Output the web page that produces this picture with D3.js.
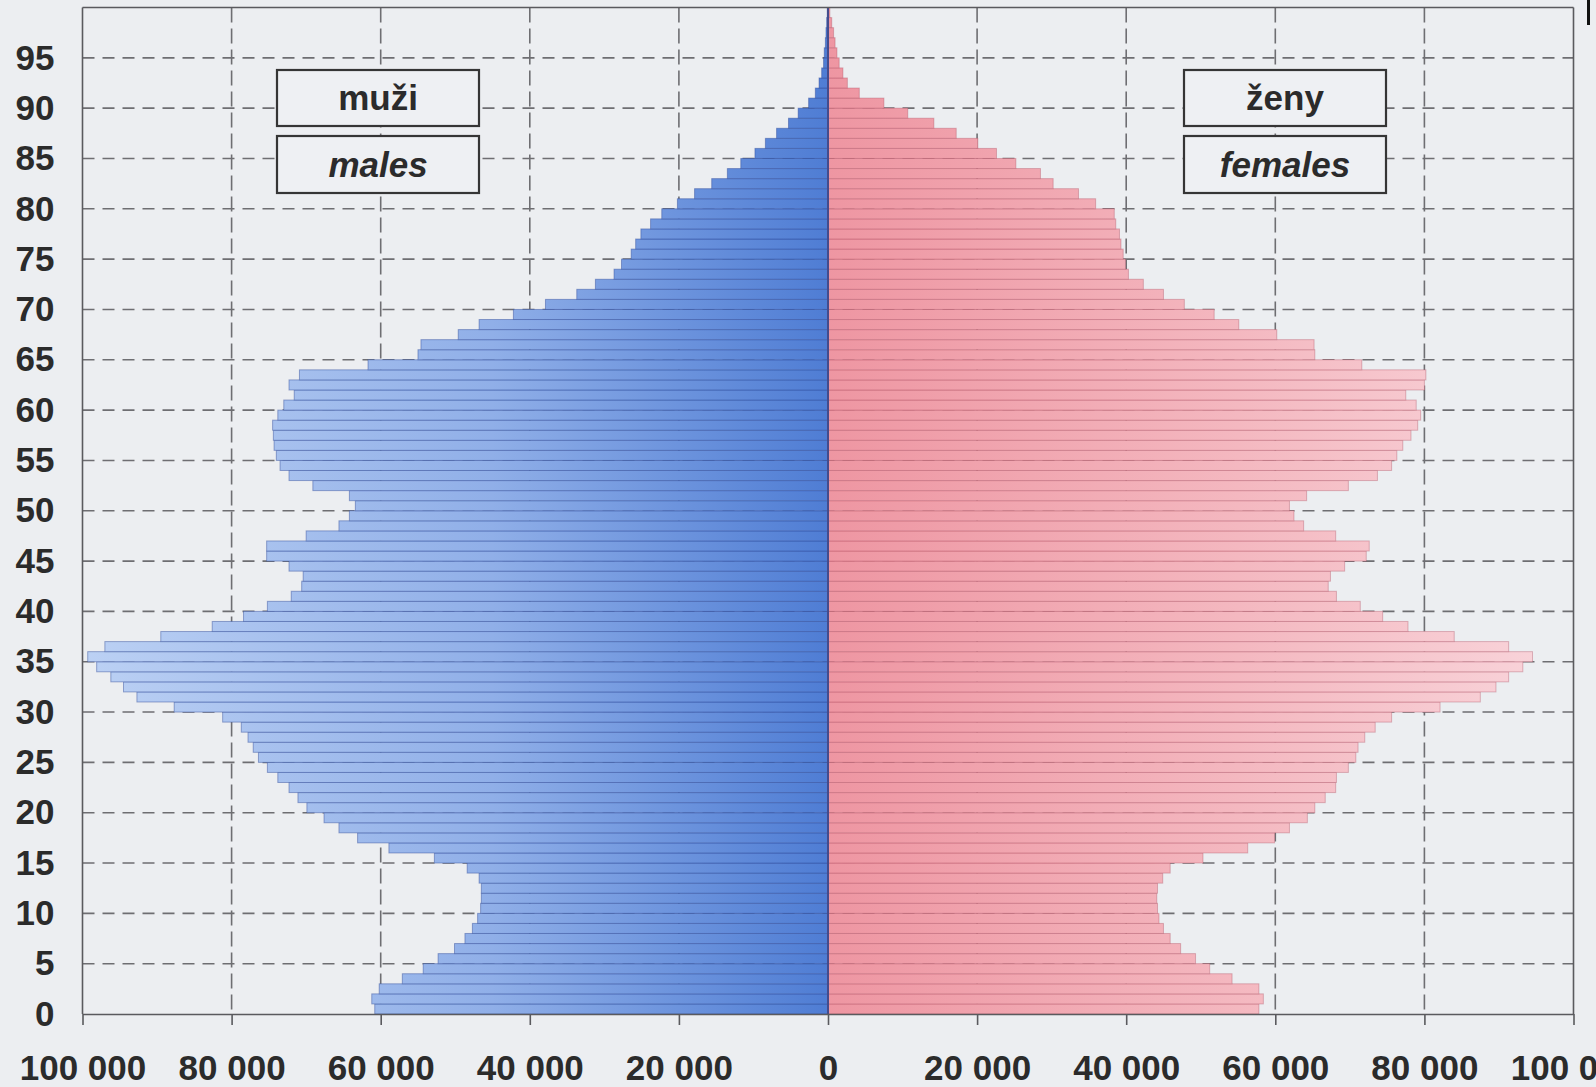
<!DOCTYPE html>
<html><head><meta charset="utf-8">
<script src="https://cdn.jsdelivr.net/npm/d3@7"></script>
<style>html,body{margin:0;padding:0;background:#eceef1;overflow:hidden;} svg{display:block;}</style>
</head><body>
<svg id="c" width="1596" height="1087"></svg>
<script>
// ---- data (thousands of persons, ages 0..99) ----
const ages = d3.range(0, 100);
const males = [
 60.8,61.2,60.2,57.1,54.3,52.3,50.1,48.7,47.7,47.0,
 46.6,46.5,46.5,46.8,48.4,52.8,58.9,63.1,65.6,67.6,
 69.9,71.1,72.3,73.8,75.2,76.4,77.1,77.8,78.7,81.2,
 87.7,92.7,94.5,96.2,98.1,99.3,97.0,89.5,82.6,78.4,
 75.2,72.0,70.6,70.4,72.3,75.3,75.3,70.0,65.6,64.2,
 63.4,64.2,69.1,72.3,73.5,74.0,74.3,74.4,74.5,73.8,
 73.0,71.6,72.3,70.9,61.7,55.0,54.6,49.6,46.8,42.2,
 37.9,33.7,31.2,28.7,27.7,26.4,25.8,25.1,23.8,22.3,
 20.2,17.9,15.6,13.5,11.7,9.8,8.4,6.9,5.3,4.0,
 2.6,1.7,1.2,0.85,0.6,0.5,0.35,0.27,0.18,0.1
];
const females = [
 57.8,58.4,57.8,54.2,51.2,49.3,47.3,45.9,45.0,44.4,
 44.2,44.1,44.2,44.9,45.9,50.3,56.3,59.9,61.9,64.3,
 65.3,66.7,68.1,68.2,69.8,70.8,71.1,72.0,73.4,75.6,
 82.1,87.5,89.6,91.3,93.2,94.5,91.3,84.0,77.8,74.4,
 71.4,68.2,67.1,67.4,69.3,72.2,72.6,68.1,63.8,62.5,
 61.9,64.2,69.8,73.7,75.6,76.3,77.1,78.2,79.1,79.5,
 78.9,77.5,80.0,80.2,71.6,65.3,65.2,60.2,55.1,51.8,
 47.8,45.0,42.3,40.3,39.9,39.6,39.3,39.1,38.6,38.4,
 35.9,33.6,30.2,28.5,25.2,22.6,20.1,17.2,14.2,10.7,
 7.5,4.2,2.6,2.0,1.5,1.2,0.95,0.75,0.5,0.25
];
const xTicks = [-100000,-80000,-60000,-40000,-20000,0,20000,40000,60000,80000,100000];
const yTicks = d3.range(0, 100, 5);
const leftLabels = ["muži", "males"];
const rightLabels = ["ženy", "females"];

// ---- layout ----
const svg = d3.select("#c");
const x = d3.scaleLinear().domain([-100000, 100000]).range([82.5, 1573.5]);
const y = d3.scaleLinear().domain([0, 100]).range([1014, 7.5]);
const FONT = "'Liberation Sans', Arial, Helvetica, sans-serif";
const GRID = "#6e6e72";
const TXT = "#2b2b2b";

svg.append("rect").attr("width", 1596).attr("height", 1087).attr("fill", "#eceef1");

// gradients
const defs = svg.append("defs");
const gm = defs.append("linearGradient").attr("id", "gm")
  .attr("gradientUnits", "userSpaceOnUse")
  .attr("x1", x(-100000)).attr("x2", x(0)).attr("y1", 0).attr("y2", 0);
gm.append("stop").attr("offset", 0).attr("stop-color", "#bcd1f4");
gm.append("stop").attr("offset", 0.55).attr("stop-color", "#90afe8");
gm.append("stop").attr("offset", 1).attr("stop-color", "#4f7dd4");
const gf = defs.append("linearGradient").attr("id", "gf")
  .attr("gradientUnits", "userSpaceOnUse")
  .attr("x1", x(0)).attr("x2", x(100000)).attr("y1", 0).attr("y2", 0);
gf.append("stop").attr("offset", 0).attr("stop-color", "#ee96a2");
gf.append("stop").attr("offset", 0.55).attr("stop-color", "#f4b8c0");
gf.append("stop").attr("offset", 1).attr("stop-color", "#f9d6dc");

// gridlines
const g = svg.append("g");
g.selectAll(".hg").data(yTicks.filter(d => d > 0)).join("line")
  .attr("x1", x(-100000)).attr("x2", x(100000))
  .attr("y1", d => y(d)).attr("y2", d => y(d))
  .attr("stroke", GRID).attr("stroke-width", 1.6).attr("stroke-dasharray", "12,8");
g.selectAll(".vg").data(xTicks.filter(d => Math.abs(d) < 100000 && d !== 0)).join("line")
  .attr("x1", d => x(d)).attr("x2", d => x(d))
  .attr("y1", y(100)).attr("y2", y(0))
  .attr("stroke", GRID).attr("stroke-width", 1.6).attr("stroke-dasharray", "15,6");

// bars
const bars = svg.append("g");
bars.selectAll(".m").data(ages).join("rect")
  .attr("x", a => x(-males[a] * 1000))
  .attr("width", a => x(0) - x(-males[a] * 1000))
  .attr("y", a => y(a + 1))
  .attr("height", a => y(a) - y(a + 1))
  .attr("fill", "url(#gm)")
  .attr("stroke", "rgba(45,70,150,0.45)").attr("stroke-width", 1);
bars.selectAll(".f").data(ages).join("rect")
  .attr("x", x(0))
  .attr("width", a => x(females[a] * 1000) - x(0))
  .attr("y", a => y(a + 1))
  .attr("height", a => y(a) - y(a + 1))
  .attr("fill", "url(#gf)")
  .attr("stroke", "rgba(170,70,90,0.35)").attr("stroke-width", 1);

// centre line
svg.append("line").attr("x1", x(0)).attr("x2", x(0)).attr("y1", y(100)).attr("y2", y(0))
  .attr("stroke", "#454c8c").attr("stroke-width", 2);

// frame
const frame = svg.append("g").attr("stroke", "#5a5a5e").attr("stroke-width", 1.6).attr("fill", "none");
frame.append("line").attr("x1", x(-100000)).attr("x2", x(100000)).attr("y1", y(100)).attr("y2", y(100));
frame.append("line").attr("x1", x(-100000)).attr("x2", x(-100000)).attr("y1", y(100)).attr("y2", y(0));
frame.append("line").attr("x1", x(100000)).attr("x2", x(100000)).attr("y1", y(100)).attr("y2", y(0));

// x axis
const fmt = v => d3.format(",")(Math.abs(v)).replace(/,/g, " ");
const xAxis = svg.append("g").attr("transform", `translate(0,${y(0)})`)
  .call(d3.axisBottom(x).tickValues(xTicks).tickFormat(fmt).tickSize(11).tickSizeOuter(0).tickPadding(30));
xAxis.select(".domain").attr("stroke", "#5a5a5e").attr("stroke-width", 1.6);
xAxis.selectAll(".tick line").attr("stroke", "#5a5a5e").attr("stroke-width", 1.6);
xAxis.selectAll(".tick text").attr("fill", TXT)
  .style("font-family", FONT).style("font-weight", "bold").style("font-size", "35px");

// y axis
const yAxis = svg.append("g").attr("transform", `translate(${x(-100000)},0)`)
  .call(d3.axisLeft(y).tickValues(yTicks).tickSize(0).tickPadding(28));
yAxis.select(".domain").remove();
yAxis.selectAll(".tick text").attr("fill", TXT)
  .style("font-family", FONT).style("font-weight", "bold").style("font-size", "35px");

// legend boxes
function legend(x0, labels) {
  const boxes = [{y0: 70, h: 56}, {y0: 136, h: 57}];
  labels.forEach((t, i) => {
    const b = boxes[i];
    svg.append("rect").attr("x", x0).attr("y", b.y0).attr("width", 202).attr("height", b.h)
      .attr("fill", "#eef0f3").attr("stroke", "#353535").attr("stroke-width", 2.2);
    svg.append("text").attr("x", x0 + 101).attr("y", b.y0 + b.h / 2 + 12)
      .attr("text-anchor", "middle").attr("fill", TXT)
      .style("font-family", FONT).style("font-weight", "bold")
      .style("font-style", i === 1 ? "italic" : "normal").style("font-size", "35px")
      .text(t);
  });
}
legend(277, leftLabels);
legend(1184, rightLabels);

// scan artefact at top right
svg.append("rect").attr("x", 1587).attr("y", 0).attr("width", 3).attr("height", 25).attr("fill", "#111");
</script>
</body></html>
